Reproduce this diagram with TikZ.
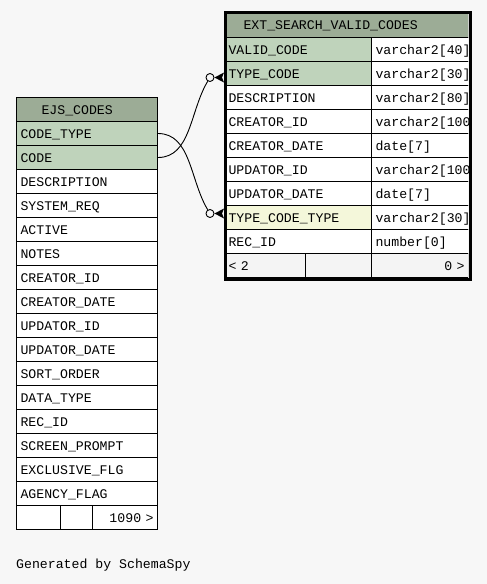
\documentclass[tikz,border=0pt]{standalone}
\usepackage{fontspec}
\newfontfamily\schemamono{Liberation Mono}
\usetikzlibrary{calc}
\definecolor{bg}{HTML}{F7F7F7}
\definecolor{hdr}{HTML}{9CAC96}
\definecolor{keyrow}{HTML}{BFD3BB}
\definecolor{fkrow}{HTML}{F4F7DA}
\definecolor{ftr}{HTML}{F4F4F4}
\begin{document}
\begin{tikzpicture}[x=1pt,y=-1pt,
  cell/.style={draw=black, line width=1pt, rectangle, anchor=north west,
    minimum height=24pt, inner xsep=4pt, inner ysep=0pt,
    text height=9pt, text depth=0pt, align=left,
    font=\schemamono\fontsize{13.2}{15}\selectfont, fill=white},
  conn/.style={draw=black, line width=0.9pt},
  optcircle/.style={circle, draw=black, fill=bg, line width=0.9pt, minimum size=8pt, inner sep=0pt}]
\path[use as bounding box, fill=bg] (0,0) rectangle (487,584);

% ---------- EJS_CODES ----------
\node[cell, fill=hdr, text width=133pt] (Lh) at (16,97) {\hspace*{21pt}EJS\_CODES};
\node[cell, fill=keyrow, text width=133pt] (L0) at (16,121) {CODE\_TYPE};
\node[cell, fill=keyrow, text width=133pt] (L1) at (16,145) {CODE};
\foreach \nm [count=\i from 2] in {DESCRIPTION,SYSTEM\_REQ,ACTIVE,NOTES,CREATOR\_ID,CREATOR\_DATE,UPDATOR\_ID,UPDATOR\_DATE,SORT\_ORDER,DATA\_TYPE,REC\_ID,SCREEN\_PROMPT,EXCLUSIVE\_FLG,AGENCY\_FLAG}
  \node[cell, text width=133pt] (L\i) at (16,{121+24*\i}) {\nm};
\node[cell, text width=36pt] (Lf1) at (16,505) {};
\node[cell, text width=24pt] (Lf2) at (60,505) {};
\node[cell, text width=57pt, align=right] (Lf3) at (92,505) {1090 >};

% ---------- EXT_SEARCH_VALID_CODES ----------
\begin{scope}
\clip (224,0) rectangle (468,290);
\node[cell, fill=hdr, text width=236pt, minimum height=26pt] (Rh) at (224,11) {\hspace*{15pt}EXT\_SEARCH\_VALID\_CODES};
\foreach \nm/\ty/\cl [count=\i from 0] in {VALID\_CODE/varchar2[40]/keyrow,TYPE\_CODE/varchar2[30]/keyrow,DESCRIPTION/varchar2[80]/white,CREATOR\_ID/varchar2[100]/white,CREATOR\_DATE/date[7]/white,UPDATOR\_ID/varchar2[100]/white,UPDATOR\_DATE/date[7]/white,TYPE\_CODE\_TYPE/varchar2[30]/fkrow,REC\_ID/number[0]/white}
{
  \node[cell, fill=\cl, text width=139pt] (R\i) at (224,{37+24*\i}) {\nm};
  \node[cell, text width=102pt] (T\i) at (371,{37+24*\i}) {\ty};
}
\node[cell, fill=ftr, text width=73pt] (Rf1) at (224,253) {< 2};
\node[cell, fill=ftr, text width=58pt] (Rf2) at (305,253) {};
\node[cell, fill=ftr, text width=89pt, align=right] (Rf3) at (371,253) {0 >};
\end{scope}
\node[draw=black, line width=3pt, rectangle, anchor=north west, minimum width=245pt, minimum height=267pt, inner sep=0pt] (Rbox) at (223.5,10.5) {};

% ---------- relationships ----------
\coordinate (t1) at ([yshift=-4pt]R1.west);
\coordinate (t2) at ([yshift=4pt]R7.west);
\node[optcircle] (c1) at ([xshift=-14pt]t1) {};
\node[optcircle] (c2) at ([xshift=-14pt]t2) {};
\fill (c1.east) -- ([yshift=5pt]t1) -- ([xshift=-2pt]t1) -- ([yshift=-5pt]t1) -- cycle;
\fill (c2.east) -- ([yshift=5pt]t2) -- ([xshift=-2pt]t2) -- ([yshift=-5pt]t2) -- cycle;
\draw[conn] (L0.east) .. controls ($(L0.east)+(33,0)$) and ($(c2)+(-20,-33)$) .. (c2);
\draw[conn] (L1.east) .. controls ($(L1.east)+(33,0)$) and ($(c1)+(-20,33)$) .. (c1);

\node[anchor=base west, inner sep=0pt, font=\schemamono\fontsize{13.2}{15}\selectfont] (gen) at (16,568) {Generated by SchemaSpy};
\end{tikzpicture}
\end{document}
